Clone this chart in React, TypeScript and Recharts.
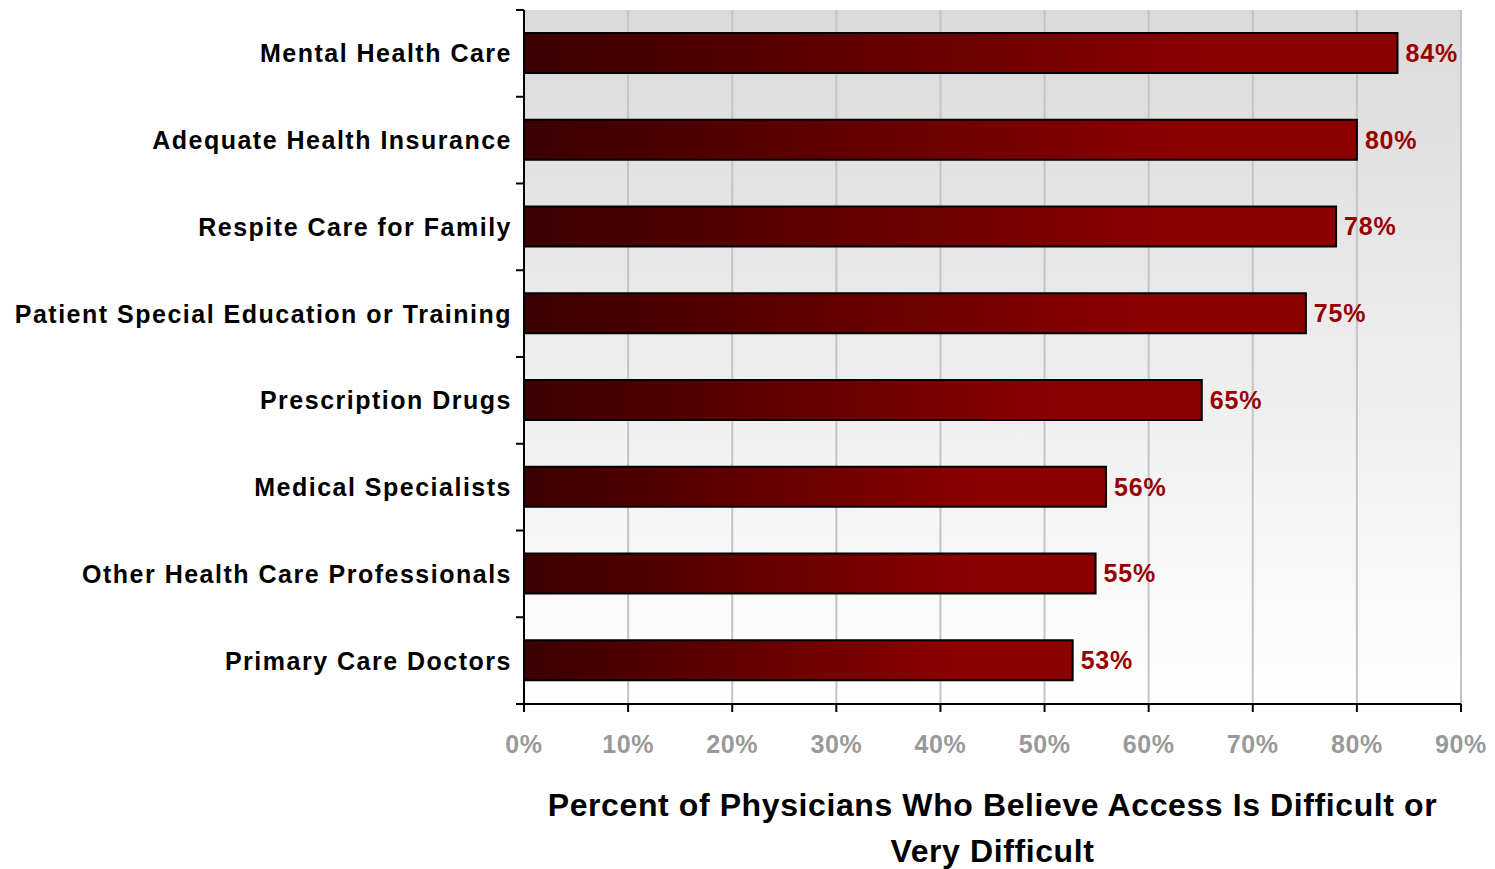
import { BarChart, Bar, XAxis, YAxis, CartesianGrid, LabelList, Label } from "recharts";

const categories = [
  "Mental Health Care",
  "Adequate Health Insurance",
  "Respite Care for Family",
  "Patient Special Education or Training",
  "Prescription Drugs",
  "Medical Specialists",
  "Other Health Care Professionals",
  "Primary Care Doctors",
];
const percents = [83.9, 80, 78, 75.1, 65.1, 55.9, 54.9, 52.7];
const xTicks = [0, 10, 20, 30, 40, 50, 60, 70, 80, 90];
const titleLines = ["Percent of Physicians Who Believe Access Is Difficult or", "Very Difficult"];

const data = categories.map((name, i) => ({ name, value: percents[i] }));

const FONT = '"Liberation Sans", Arial, Helvetica, sans-serif';

function CategoryTick(props: any) {
  const { x, y, payload, index } = props;
  const half = payload?.offset ?? 43;
  const last = index === categories.length - 1;
  return (
    <g>
      <text
        x={x}
        y={y}
        dy="0.36em"
        textAnchor="end"
        fill="#000"
        fontFamily={FONT}
        fontWeight="bold"
        fontSize={25}
        letterSpacing={1.5}
      >
        {payload.value}
      </text>
      <line x1={x + 4} x2={x + 12} y1={y - half} y2={y - half} stroke="#000" strokeWidth={2} />
      {last && <line x1={x + 4} x2={x + 12} y1={y + half} y2={y + half} stroke="#000" strokeWidth={2} />}
    </g>
  );
}

function AxisTitle(props: any) {
  const vb = props.viewBox || {};
  const cx = vb.x + vb.width / 2;
  return (
    <text textAnchor="middle" fontFamily={FONT} fontWeight="bold" fontSize={32} letterSpacing={0.6} fill="#000">
      {titleLines.map((t, i) => (
        <tspan key={i} x={cx} y={vb.y + 112 + i * 46}>
          {t}
        </tspan>
      ))}
    </text>
  );
}

export default function App() {
  return (
    <div style={{ width: 1495, height: 869 }}>
      <style>{`body{margin:0}`}</style>
      <BarChart
        width={1495}
        height={869}
        data={data}
        layout="vertical"
        margin={{ top: 10, right: 34, left: 0, bottom: 0 }}
      >
        <defs>
          <linearGradient id="bgFade" x1="0" y1="0" x2="0" y2="1">
            <stop offset="0%" stopColor="#dadada" />
            <stop offset="100%" stopColor="#ffffff" />
          </linearGradient>
          <linearGradient id="barFade" x1="0" y1="0" x2="1" y2="0">
            <stop offset="0%" stopColor="#3a0000" />
            <stop offset="80%" stopColor="#8d0000" />
            <stop offset="100%" stopColor="#8d0000" />
          </linearGradient>
        </defs>
        <CartesianGrid fill="url(#bgFade)" fillOpacity={1} horizontal={false} stroke="#c4c4c4" strokeWidth={2} />
        <XAxis
          type="number"
          domain={[0, 90]}
          ticks={xTicks}
          interval={0}
          height={165}
          tickFormatter={(v) => `${v}%`}
          tick={{ fill: "#999999", fontSize: 25, fontWeight: "bold", fontFamily: FONT, letterSpacing: 0.6 }}
          tickSize={8}
          tickMargin={23}
          axisLine={{ stroke: "#000", strokeWidth: 2 }}
          tickLine={{ stroke: "#000", strokeWidth: 2 }}
        >
          <Label content={<AxisTitle />} />
        </XAxis>
        <YAxis
          type="category"
          dataKey="name"
          width={524}
          tick={<CategoryTick />}
          tickSize={0}
          tickMargin={12}
          tickLine={false}
          axisLine={{ stroke: "#000", strokeWidth: 2 }}
        />
        <Bar dataKey="value" barSize={40} fill="url(#barFade)" stroke="#000" strokeWidth={2} isAnimationActive={false}>
          <LabelList
            dataKey="value"
            position="right"
            offset={8}
            formatter={(v: any) => `${Math.round(Number(v))}%`}
            fill="#990000"
            fontFamily={FONT}
            fontWeight="bold"
            fontSize={25}
            letterSpacing={0.8}
          />
        </Bar>
      </BarChart>
    </div>
  );
}
